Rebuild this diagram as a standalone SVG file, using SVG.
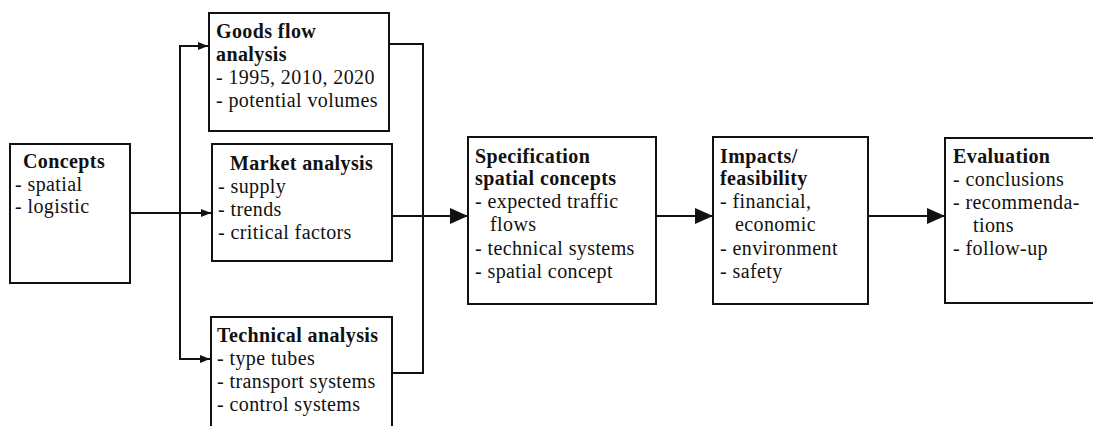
<svg xmlns="http://www.w3.org/2000/svg" width="1093" height="426" viewBox="0 0 1093 426">
<defs>
<style>
.box{fill:#fff;stroke:#111;stroke-width:2}
.ln{fill:none;stroke:#111;stroke-width:2}
text{font-family:"Liberation Serif","Times New Roman",serif;font-size:20px;fill:#111;letter-spacing:0.4px}
.h{font-weight:bold}
</style>
<marker id="sa" viewBox="0 0 10 8" refX="10" refY="4" markerUnits="userSpaceOnUse" markerWidth="10" markerHeight="8" orient="auto"><path d="M0,0 L10,4 L0,8 Z" fill="#111"/></marker>
<marker id="la" viewBox="0 0 18 16" refX="18" refY="8" markerUnits="userSpaceOnUse" markerWidth="18" markerHeight="16" orient="auto"><path d="M0,0 L18,8 L0,16 Z" fill="#111"/></marker>
</defs>
<rect width="1093" height="426" fill="#fff"/>
<g id="connectors">
<path class="ln" d="M130,213 H211" marker-end="url(#sa)"/>
<path class="ln" d="M209,46 H180 V359 H210" marker-end="url(#sa)"/>
<path class="ln" d="M180,46 H208" marker-end="url(#sa)"/>
<path class="ln" d="M389,44 H423 V373 H392"/>
<path class="ln" d="M392,216 H468" marker-end="url(#la)"/>
<path class="ln" d="M656,216 H713" marker-end="url(#la)"/>
<path class="ln" d="M868,216 H945" marker-end="url(#la)"/>
</g>
<g id="concepts">
<rect class="box" x="10" y="144" width="120" height="139"/>
<text x="23" y="168" class="h">Concepts</text>
<text x="15" y="191">- spatial</text>
<text x="15" y="213">- logistic</text>
</g>
<g id="goods">
<rect class="box" x="209" y="13" width="180" height="118"/>
<text x="216" y="38" class="h">Goods flow</text>
<text x="216" y="61" class="h">analysis</text>
<text x="216" y="84">- 1995, 2010, 2020</text>
<text x="216" y="107">- potential volumes</text>
</g>
<g id="market">
<rect class="box" x="212" y="144" width="180" height="117"/>
<text x="230" y="170" class="h">Market analysis</text>
<text x="218" y="193">- supply</text>
<text x="218" y="216">- trends</text>
<text x="218" y="239">- critical factors</text>
</g>
<g id="technical">
<rect class="box" x="211" y="317" width="181" height="130"/>
<text x="217" y="342" class="h">Technical analysis</text>
<text x="217" y="365">- type tubes</text>
<text x="217" y="388">- transport systems</text>
<text x="217" y="411">- control systems</text>
</g>
<g id="specification">
<rect class="box" x="468" y="137" width="188" height="167"/>
<text x="475" y="163" class="h">Specification</text>
<text x="475" y="185" class="h">spatial concepts</text>
<text x="475" y="208">- expected traffic</text>
<text x="490" y="231">flows</text>
<text x="475" y="255">- technical systems</text>
<text x="475" y="278">- spatial concept</text>
</g>
<g id="impacts">
<rect class="box" x="713" y="137" width="155" height="167"/>
<text x="720" y="163" class="h">Impacts/</text>
<text x="720" y="185" class="h">feasibility</text>
<text x="720" y="208">- financial,</text>
<text x="735" y="231">economic</text>
<text x="720" y="255">- environment</text>
<text x="720" y="278">- safety</text>
</g>
<g id="evaluation">
<rect class="box" x="945" y="138" width="160" height="165"/>
<text x="953" y="163" class="h">Evaluation</text>
<text x="953" y="186">- conclusions</text>
<text x="953" y="209">- recommenda-</text>
<text x="973" y="232">tions</text>
<text x="953" y="255">- follow-up</text>
</g>
</svg>
